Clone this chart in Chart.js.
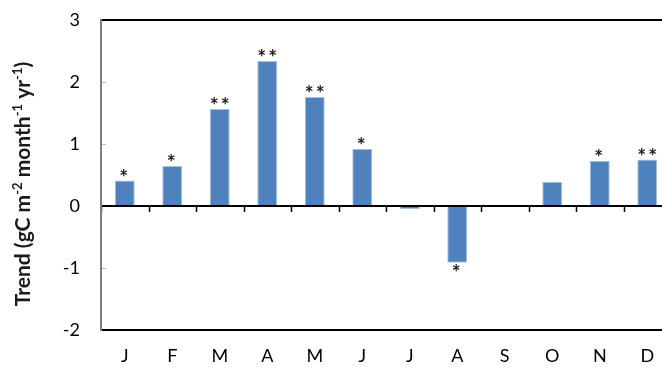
<!DOCTYPE html>
<html>
<head>
<meta charset="utf-8">
<script src="https://cdn.jsdelivr.net/npm/chart.js@4"></script>
<style>
  html, body { margin: 0; padding: 0; background: #fff; overflow: hidden; }
  #wrap { width: 680px; height: 369px; }
</style>
</head>
<body>
<div id="wrap"><canvas id="trendChart" width="680" height="369"></canvas></div>
<script>
const months = ["J", "F", "M", "A", "M", "J", "J", "A", "S", "O", "N", "D"];
const trend = [0.41, 0.645, 1.565, 2.34, 1.76, 0.92, -0.05, -0.915, 0, 0.39, 0.73, 0.75];
const signif = ["*", "*", "**", "**", "**", "*", "", "*", "", "", "*", "**"];
const yMin = -2, yMax = 3, yStep = 1;

const FONT = "Lato, 'Open Sans', sans-serif";

// draws box, zero axis with ticks, stars and y title
const decorPlugin = {
  id: "decor",
  afterDatasetsDraw(chart) {
    const { ctx, chartArea: a, scales: { x, y } } = chart;
    ctx.save();

    // zero line + category ticks
    const y0 = y.getPixelForValue(0);
    ctx.strokeStyle = "#000";
    ctx.lineWidth = 2;
    ctx.beginPath();
    ctx.moveTo(a.left, y0);
    ctx.lineTo(a.right, y0);
    ctx.stroke();
    const w = (a.right - a.left) / months.length;
    ctx.lineWidth = 1.5;
    ctx.beginPath();
    for (let i = 0; i <= months.length; i++) {
      const px = Math.round(a.left + i * w) + 0.5;
      ctx.moveTo(px, y0);
      ctx.lineTo(px, y0 + 6);
    }
    ctx.stroke();

    // box
    ctx.lineWidth = 2;
    ctx.strokeStyle = "#000";
    ctx.beginPath();
    ctx.moveTo(a.left, a.top);
    ctx.lineTo(a.right, a.top);
    ctx.moveTo(a.left, a.bottom);
    ctx.lineTo(a.right, a.bottom);
    ctx.stroke();
    ctx.strokeStyle = "#7f7f7f";
    ctx.beginPath();
    ctx.moveTo(a.left, a.top - 1);
    ctx.lineTo(a.left, a.bottom + 1);
    ctx.stroke();

    // y inner ticks
    ctx.strokeStyle = "#bfbfbf";
    ctx.lineWidth = 1;
    ctx.beginPath();
    for (let v = yMin + yStep; v < yMax; v += yStep) {
      if (v === 0) continue;
      const py = Math.round(y.getPixelForValue(v)) + 0.5;
      ctx.moveTo(a.left + 1, py);
      ctx.lineTo(a.left + 5, py);
    }
    ctx.stroke();

    // significance stars
    const meta = chart.getDatasetMeta(0);
    ctx.fillStyle = "#1a1a1a";
    ctx.font = "bold 21px " + FONT;
    ctx.textAlign = "center";
    ctx.letterSpacing = "2px";
    meta.data.forEach((bar, i) => {
      if (!signif[i]) return;
      const txt = signif[i];
      const cxs = bar.x + (txt.length > 1 ? 1 : 0);
      if (trend[i] >= 0) {
        ctx.textBaseline = "alphabetic";
        ctx.fillText(txt, cxs, bar.y + 4);
      } else {
        ctx.textBaseline = "top";
        ctx.fillText(txt, cxs, bar.y);
      }
    });
    ctx.letterSpacing = "0px";

    // y title with superscripts
    const parts = [
      ["Trend (gC m", false], ["-2", true], [" month", false],
      ["-1", true], [" yr", false], ["-1", true], [")", false]
    ];
    const big = "bold 21px " + FONT, small = "bold 13px " + FONT;
    let total = 0;
    parts.forEach(p => { ctx.font = p[1] ? small : big; total += ctx.measureText(p[0]).width; });
    ctx.translate(30, 184);
    ctx.rotate(-Math.PI / 2);
    ctx.textAlign = "left";
    ctx.textBaseline = "alphabetic";
    let cx = -total / 2;
    parts.forEach(p => {
      ctx.font = p[1] ? small : big;
      ctx.fillText(p[0], cx, p[1] ? -8 : 0);
      cx += ctx.measureText(p[0]).width;
    });
    ctx.restore();
  }
};

new Chart(document.getElementById("trendChart"), {
  type: "bar",
  data: {
    labels: months,
    datasets: [{
      data: trend,
      backgroundColor: "#4f81bd",
      borderColor: "#a7bedf",
      borderWidth: 1,
      borderSkipped: false,
      barPercentage: 0.42,
      categoryPercentage: 1
    }]
  },
  options: {
    responsive: false,
    animation: false,
    layout: { padding: { top: 20, right: 9, left: 0, bottom: 0 } },
    plugins: { legend: { display: false }, tooltip: { enabled: false } },
    scales: {
      x: {
        grid: { display: false, drawTicks: false },
        border: { display: false },
        ticks: { color: "#000", font: { size: 18, family: FONT }, padding: 15, maxRotation: 0, autoSkip: false },
        afterFit(s) { s.height = 39; }
      },
      y: {
        min: yMin,
        max: yMax,
        grid: { display: false, drawTicks: false },
        border: { display: false },
        ticks: { stepSize: yStep, color: "#000", font: { size: 18, family: FONT }, padding: 21 },
        afterFit(s) { s.width = 101; s.paddingTop = 0; s.paddingBottom = 0; }
      }
    }
  },
  plugins: [decorPlugin]
});
</script>
</body>
</html>
